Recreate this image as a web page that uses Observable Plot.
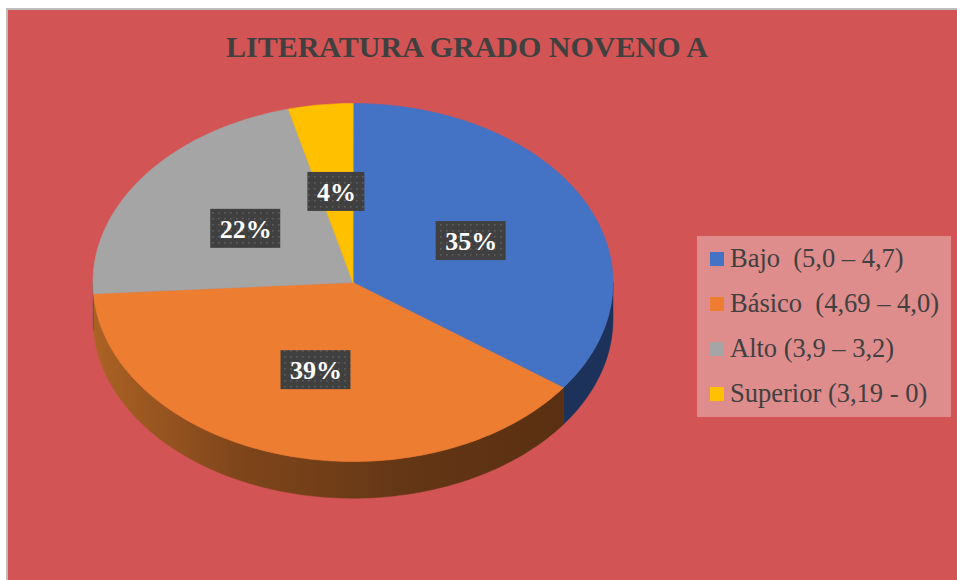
<!DOCTYPE html>
<html><head><meta charset="utf-8">
<script src="https://cdn.jsdelivr.net/npm/d3@7"></script>
<script src="https://cdn.jsdelivr.net/npm/@observablehq/plot@0.6"></script>
<style>
body{margin:0;background:#fff;}
#wrap{position:relative;width:957px;height:580px;overflow:hidden;background:#fff;font-family:"Liberation Serif","Times New Roman",serif;}
#frame{position:absolute;left:6px;top:8px;right:0;bottom:0;background:#D35454;border-left:2px solid #BDBDBD;border-top:2px solid #BDBDBD;}
#title{position:absolute;left:0;width:934px;top:32px;text-align:center;font-weight:bold;font-size:30px;line-height:30px;color:#404040;white-space:nowrap;font-family:"Liberation Serif",serif;}
#legend{position:absolute;left:697px;top:236px;width:254px;height:181px;background:#DE8C8C;}
.item{position:absolute;left:0;height:26px;font-size:26.5px;line-height:26px;color:#404040;white-space:pre;font-family:"Liberation Serif",serif;}
.sw{position:absolute;left:13px;top:7px;width:14px;height:14px;}
.tx{position:absolute;left:33px;top:0;}
#chart{position:absolute;left:0;top:0;}
#chart text{font-family:"Liberation Serif",serif !important;}
</style>
</head><body>
<svg width="0" height="0" style="position:absolute">
<defs>
<linearGradient id="orangeSide" x1="0" x2="1" y1="0" y2="0">
 <stop offset="0" stop-color="#AC6224"/><stop offset="0.3" stop-color="#80461B"/><stop offset="0.7" stop-color="#623515"/><stop offset="1" stop-color="#5A3012"/>
</linearGradient>
<pattern id="dots" width="6" height="6" patternUnits="userSpaceOnUse"><rect width="6" height="6" fill="#404040"/><rect x="2" y="2" width="1.6" height="1.6" fill="#5E5E5E"/></pattern>
<filter id="shadowBlur" x="-20%" y="-20%" width="140%" height="140%"><feGaussianBlur stdDeviation="9"/></filter>
<filter id="boxShadow" x="-30%" y="-30%" width="160%" height="160%"><feDropShadow dx="3" dy="4" stdDeviation="2.5" flood-color="#000" flood-opacity="0.45"/></filter>
</defs></svg>
<div id="wrap">
  <div id="frame"></div>
  <div id="title"></div>
  <div id="legend"></div>
  <div id="chart"></div>
</div>
<script>
const titleText = "LITERATURA GRADO NOVENO A";
const categories = ["Bajo  (5,0 – 4,7)", "Básico  (4,69 – 4,0)", "Alto (3,9 – 3,2)", "Superior (3,19 - 0)"];
const percents = [35, 39, 22, 4];
const labels = ["35%", "39%", "22%", "4%"];
const topColors = ["#4472C4", "#ED7D31", "#A5A5A5", "#FFC000"];
const sideColors = ["#1C325A", "url(#orangeSide)", "#5C5C5C", "#8F6C00"];

document.getElementById("title").textContent = titleText;
const leg = document.getElementById("legend");
categories.forEach((c, i) => {
  const row = document.createElement("div");
  row.className = "item";
  row.style.top = (9 + i * 45) + "px";
  row.innerHTML = `<span class="sw" style="background:${topColors[i]}"></span><span class="tx"></span>`;
  row.querySelector(".tx").textContent = c;
  leg.appendChild(row);
});

// geometry (layout)
const cx = 352.5, cy = 282, rx = 260, ry = 179;
const depth = 0.205; // in units of ry
const total = d3.sum(percents);
let acc = 0;
const slices = percents.map((v, i) => {
  const a0 = acc / total * 360; acc += v; const a1 = acc / total * 360;
  return {i, a0, a1, mid: (a0 + a1) / 2};
});
const rad = d => d * Math.PI / 180;
const pt = deg => ({x: Math.sin(rad(deg)), y: -Math.cos(rad(deg))});
function arc(a0, a1) {
  const n = Math.max(2, Math.ceil(a1 - a0));
  return d3.range(n + 1).map(k => pt(a0 + (a1 - a0) * k / n));
}
const topPts = slices.flatMap(s => [{x: 0, y: 0}, ...arc(s.a0, s.a1)].map(p => ({...p, cat: categories[s.i]})));
const sidePolys = slices.map(s => {
  const b0 = Math.max(s.a0, 90), b1 = Math.min(s.a1, 270);
  if (b1 <= b0) return null;
  const top = arc(b0, b1);
  const bot = top.slice().reverse().map(p => ({x: p.x, y: p.y + depth}));
  return {i: s.i, pts: [...top, ...bot]};
}).filter(Boolean);
const shadowPts = [...arc(-90, 90), ...arc(90, 270).map(p => ({x: p.x, y: p.y + depth}))]
  .map(p => ({x: p.x * 1.02 + 0.01, y: p.y * 1.02 + 0.06}));

const ctx = document.createElement("canvas").getContext("2d");
ctx.font = "bold 26px 'Liberation Serif'";
const lr = 0.51;
const labelData = slices.map(s => {
  const p = pt(s.mid);
  const x = p.x * lr, y = p.y * lr;
  const w = ctx.measureText(labels[s.i]).width + 18, h = 39;
  return {x, y, label: labels[s.i],
    x1: x - w / 2 / rx, x2: x + w / 2 / rx, y1: y - h / 2 / ry, y2: y + h / 2 / ry};
});

const plot = Plot.plot({
  width: 957, height: 580, margin: 0,
  x: {domain: [-1, 1], range: [cx - rx, cx + rx], axis: null},
  y: {domain: [-1, 1], range: [cy - ry, cy + ry], axis: null},
  color: {domain: categories, range: topColors},
  style: {background: "transparent", overflow: "visible"},
  marks: [
    Plot.line(shadowPts, {x: "x", y: "y", fill: "#000", fillOpacity: 0.7, stroke: "none", curve: "linear-closed", ariaLabel: "shadow"}),
    ...sidePolys.map(s => Plot.line(s.pts, {x: "x", y: "y", fill: sideColors[s.i], stroke: sideColors[s.i], strokeWidth: 0.5, curve: "linear-closed"})),
    Plot.line(topPts, {x: "x", y: "y", z: "cat", fill: "cat", stroke: "cat", strokeWidth: 0.6, curve: "linear-closed"}),
    Plot.rect(labelData, {x1: "x1", x2: "x2", y1: "y1", y2: "y2", fill: "url(#dots)", ariaLabel: "labelbox"}),
    Plot.text(labelData, {x: "x", y: "y", dy: 1, text: "label", fill: "#fff", fontSize: 26, fontWeight: "bold", fontFamily: "Liberation Serif"})
  ]
});
d3.select(plot).select('g[aria-label="shadow"]').attr("filter", "url(#shadowBlur)");
d3.select(plot).select('g[aria-label="labelbox"]').attr("filter", "url(#boxShadow)");
d3.select(plot).selectAll("text").style("font-family", "'Liberation Serif', serif");
document.getElementById("chart").appendChild(plot);
</script>
</body></html>
